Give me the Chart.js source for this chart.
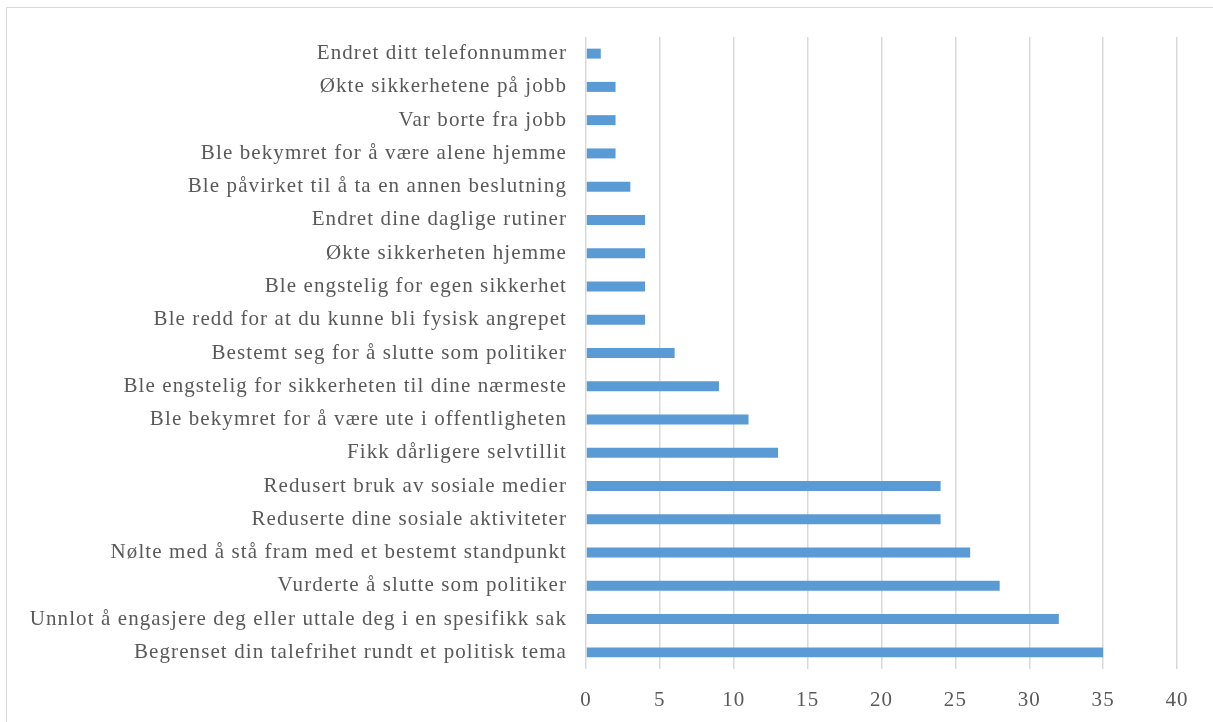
<!DOCTYPE html>
<html>
<head>
<meta charset="utf-8">
<script src="https://cdn.jsdelivr.net/npm/chart.js@4"></script>
<style>
  html, body { margin: 0; padding: 0; background: #fff; }
  #wrap { position: relative; width: 1213px; height: 722px; overflow: hidden; }
  #frame { position: absolute; left: 6px; top: 7px; width: 1300px; height: 800px; border: 1.5px solid #d9d9d9; box-sizing: border-box; }
  canvas { position: absolute; left: 0; top: 0; }
</style>
</head>
<body>
<div id="wrap">
  <div id="frame"></div>
  <canvas id="chart" width="1213" height="722"></canvas>
</div>
<script>
const categories = [
  "Endret ditt telefonnummer",
  "Økte sikkerhetene på jobb",
  "Var borte fra jobb",
  "Ble bekymret for å være alene hjemme",
  "Ble påvirket til å ta en annen beslutning",
  "Endret dine daglige rutiner",
  "Økte sikkerheten hjemme",
  "Ble engstelig for egen sikkerhet",
  "Ble redd for at du kunne bli fysisk angrepet",
  "Bestemt seg for å slutte som politiker",
  "Ble engstelig for sikkerheten til dine nærmeste",
  "Ble bekymret for å være ute i offentligheten",
  "Fikk dårligere selvtillit",
  "Redusert bruk av sosiale medier",
  "Reduserte dine sosiale aktiviteter",
  "Nølte med å stå fram med et bestemt standpunkt",
  "Vurderte å slutte som politiker",
  "Unnlot å engasjere deg eller uttale deg i en spesifikk sak",
  "Begrenset din talefrihet rundt et politisk tema"
];
const values = [1, 2, 2, 2, 3, 4, 4, 4, 4, 6, 9, 11, 13, 24, 24, 26, 28, 32, 35];
const xMin = 0;
const xMax = 40;
const xStep = 5;

const font = "'Liberation Serif', 'Times New Roman', serif";

// the reference text is a bit wider than plain Times, so space the letters out
const spacing = {
  id: "spacing",
  beforeDraw: function (chart) { chart.ctx.letterSpacing = "1.1px"; }
};

new Chart(document.getElementById("chart").getContext("2d"), {
  type: "bar",
  data: {
    labels: categories,
    datasets: [{
      data: values,
      backgroundColor: "#5b9bd5",
      borderWidth: 0,
      categoryPercentage: 1,
      barPercentage: 0.3
    }]
  },
  plugins: [spacing],
  options: {
    indexAxis: "y",
    responsive: false,
    animation: false,
    layout: { padding: { top: 37, right: 36, bottom: 0, left: 0 } },
    plugins: { legend: { display: false }, tooltip: { enabled: false } },
    scales: {
      x: {
        min: xMin,
        max: xMax,
        ticks: { stepSize: xStep, color: "#595959", font: { family: font, size: 21 }, padding: 19 },
        grid: { color: "#d9d9d9", lineWidth: 1.5, drawTicks: false },
        border: { display: false },
        afterFit: function (scale) { scale.height = 53; }
      },
      y: {
        ticks: { color: "#595959", font: { family: font, size: 21 }, padding: 19, autoSkip: false },
        grid: { display: false, drawTicks: false },
        border: { display: false },
        afterFit: function (scale) { scale.width = 586; }
      }
    }
  }
});
</script>
</body>
</html>
